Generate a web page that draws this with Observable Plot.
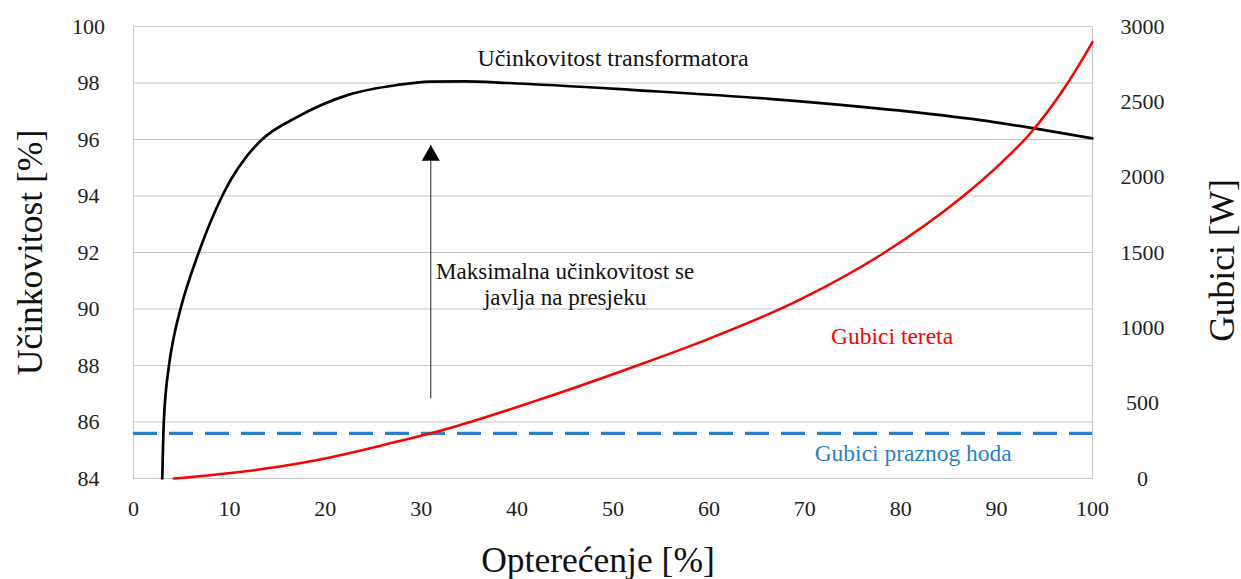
<!DOCTYPE html>
<html><head><meta charset="utf-8">
<script src="https://cdn.jsdelivr.net/npm/d3@7"></script>
<script src="https://cdn.jsdelivr.net/npm/@observablehq/plot@0.6"></script>
<style>
body{margin:0;background:#fff}
#wrap{position:relative;width:1241px;height:579px}
#wrap svg{position:absolute;left:0;top:0}
#wrap svg, #wrap svg text{font-family:"Liberation Serif","Tinos","Times New Roman","Times","DejaVu Serif","Noto Serif",serif !important}
</style>
</head><body><div id="wrap"></div>
<script>
// ---- data ----
const xTicks = [0,10,20,30,40,50,60,70,80,90,100];
const effTicks = [84,86,88,90,92,94,96,98,100];
const lossTicks = [0,500,1000,1500,2000,2500,3000];

// Učinkovitost transformatora [%] vs opterećenje [%]
const effLoad  = [3.0,3.16,3.7,4.2,4.9,6.8,9.25,10.1,11.86,13.4,17.1,22.3,27.5,31,34.5,39,52.7,66.3,80,89.1,93.8,100];
const effValue = [84,86,88,89,90,92,94,94.55,95.43,96,96.8,97.57,97.93,98.05,98.06,98.0,97.74,97.44,97.02,96.65,96.4,96.04];

// Gubici tereta [W]
const lossLoad = [4.2,13.6,20.5,27.5,31.3,41.7,52.1,59.1,69.6,78.2,86.5,90.4,93.5,97.4,100];
const lossW    = [0,64,140,245,305,510,740,905,1190,1495,1873,2090,2290,2623,2896];

// Gubici praznog hoda [W]
const noLoadW = 300;

// annotation arrow (load %, efficiency %)
const arrowX = 31, arrowFrom = 86.82, arrowTo = 95.79;

const effLabels = [
  {x:50, y:98.87, text:"Učinkovitost transformatora"},
  {x:45, y:90.9, text:"Maksimalna učinkovitost se\njavlja na presjeku"}
];
const lossLabels = [
  {x:79.1, y:941, text:"Gubici tereta", color:"#ff0000"},
  {x:81.3, y:164, text:"Gubici praznog hoda", color:"#2a7fc9"}
];

// ---- chart ----
const W = 1241, H = 579;
const margins = {marginLeft:133, marginRight:149, marginTop:26, marginBottom:101};
const fontCss = "font-size: 22px; color: #222;";

const effData = effLoad.map((x,i)=>({x, y:effValue[i]}));
const lossData = lossLoad.map((x,i)=>({x, y:lossW[i]}));
const arrow = [{x:arrowX, y1:arrowFrom, y2:arrowTo}];

const p1 = Plot.plot({
  width:W, height:H, ...margins,
  style: fontCss + " background: #fff;",
  x:{domain:[0,100]},
  y:{domain:[84,100]},
  marks:[
    Plot.gridY(effTicks, {stroke:"#c6c6c6", strokeOpacity:1, strokeWidth:1}),
    Plot.frame({stroke:"#c6c6c6", strokeWidth:1}),
    Plot.axisY(effTicks, {tickSize:0, tickPadding:45, textAnchor:"middle", fontSize:22, label:null, fill:"#222"}),
    Plot.axisX(xTicks, {tickSize:0, tickPadding:22, fontSize:22, label:null, fill:"#222"}),
    Plot.ruleX(arrow, {x:"x", y1:"y1", y2:"y2", stroke:"#222", strokeWidth:1}),
    Plot.dot(arrow, {x:"x", y:"y2", symbol:"triangle", r:6.7, fill:"#000", stroke:"none", dy:10}),
    Plot.line(effData, {x:"x", y:"y", stroke:"#000", strokeWidth:2.7, curve:"monotone-x"}),
    Plot.text(effLabels.slice(0,1), {x:"x", y:"y", text:"text", fontSize:24, fill:"#111", textAnchor:"middle", lineAnchor:"middle"}),
    Plot.text(effLabels.slice(1), {x:"x", y:"y", text:"text", fontSize:23, fill:"#111", lineHeight:1.15, textAnchor:"middle", lineAnchor:"middle"}),
    Plot.text(["Učinkovitost [%]"], {text:d=>d, frameAnchor:"left", rotate:-90, dx:-103, fontSize:35.5, fill:"#111", textAnchor:"middle", lineAnchor:"middle"}),
    Plot.text(["Opterećenje [%]"], {text:d=>d, frameAnchor:"bottom", dx:-15, dy:82, fontSize:35.5, fill:"#111", textAnchor:"middle", lineAnchor:"middle"})
  ]
});

const p2 = Plot.plot({
  width:W, height:H, ...margins,
  style: fontCss + " background: transparent;",
  x:{domain:[0,100], axis:null},
  y:{domain:[0,3000], axis:null},
  marks:[
    Plot.axisY(lossTicks, {anchor:"right", tickSize:0, tickPadding:50, textAnchor:"middle", fontSize:22, label:null, fill:"#222", tickFormat:d=>String(d)}),
    Plot.ruleY([noLoadW], {stroke:"#2a7fc9", strokeWidth:3.3, strokeDasharray:"24,12"}),
    Plot.line(lossData, {x:"x", y:"y", stroke:"#ff0000", strokeWidth:2.5, curve:"monotone-x"}),
    Plot.text(lossLabels, {x:"x", y:"y", text:"text", fill:"color", fontSize:23.5, textAnchor:"middle", lineAnchor:"middle"}),
    Plot.text(["Gubici [W]"], {text:d=>d, frameAnchor:"right", rotate:-90, dx:130, dy:8, fontSize:35.5, fill:"#111", textAnchor:"middle", lineAnchor:"middle"})
  ]
});

const wrap = document.getElementById("wrap");
wrap.appendChild(p1);
wrap.appendChild(p2);
</script>
</body></html>
